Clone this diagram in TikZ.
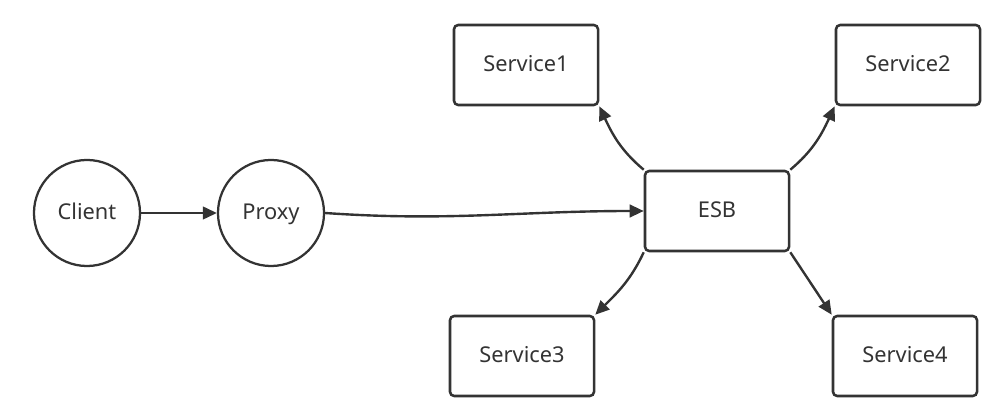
\documentclass[tikz,border=0pt]{standalone}
\usepackage{fontspec}
\setmainfont{Noto Sans}
\usetikzlibrary{arrows.meta,positioning}
\definecolor{ink}{HTML}{333333}

\begin{document}
\begin{tikzpicture}[
  x=0.025cm, y=-0.025cm,
  label font/.style={font=\fontsize{15.5}{18}\selectfont, text=ink, text height=1.9ex, text depth=0.2ex},
  endpoint/.style={circle, draw=ink, line width=1.6pt, minimum size=2.65cm, inner sep=0pt, label font},
  service/.style={rectangle, draw=ink, line width=1.8pt, rounded corners=3pt, minimum width=3.6cm, minimum height=2cm, label font},
  link/.style={draw=ink, line width=1.7pt, -{Triangle[length=10pt, width=9pt]}},
]
  \useasboundingbox (0,0) rectangle (1003,418);

  % Client side
  \node[endpoint] (client) at (87, 213) {Client};
  \node[endpoint] (proxy) at (271, 213) {Proxy};

  % Bus and services
  \node[service] (esb) at (717, 211) {ESB};
  \node[service] (s1) at (526, 65) {Service1};
  \node[service] (s2) at (908, 65) {Service2};
  \node[service] (s3) at (522, 356) {Service3};
  \node[service] (s4) at (905, 356) {Service4};

  % Connectors
  \draw[link] (client) -- (proxy);
  \draw[link] (proxy.east) to[out=-4, in=180] (esb.west);
  \draw[link] (esb.north west) to[out=140, in=-65] (s1.south east);
  \draw[link] (esb.north east) to[out=40, in=-115] (s2.south west);
  \draw[link] (esb.south west) to[out=-115, in=45] (s3.north east);
  \draw[link] (esb.south east) -- (s4.north west);
\end{tikzpicture}
\end{document}
